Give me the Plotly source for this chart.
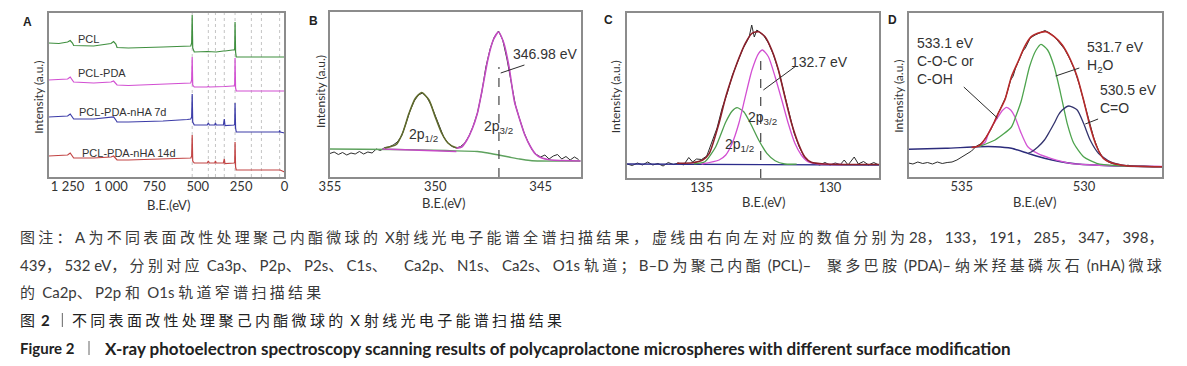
import plotly.graph_objects as go

W, H = 1187, 366
def PX(x): return x / W
def PY(y): return 1 - y / H

# ---------------- Panel A : survey spectra ----------------
A_ev = [1360, 1300, 1250, 1235, 1222, 1215, 1100, 1000, 985, 972, 965, 900, 700, 560, 540, 535, 532, 529,
        520, 445, 439, 433, 402, 398, 394, 352, 347, 343, 300, 290, 287, 285, 282, 278, 200, 100, 30, 28, 25, 0]
A_pcl = [134, 133.5, 135, 136.5, 134, 131.5, 131, 133.5, 135.5, 133, 129.5, 129, 130, 131.5, 131, 134, 162, 129,
         125, 125.5, 125.5, 125, 125.5, 125.5, 125, 126, 126, 126, 127, 127, 128.5, 155, 125, 120, 120, 120, 120, 120, 120, 120]
A_pda = [97, 97.5, 98, 100, 97, 95, 94, 95, 96, 93, 92, 91.5, 92.5, 93.5, 94, 97, 120, 92,
         90, 90, 90.5, 90, 90, 90.5, 90, 90.5, 90.5, 90.5, 91, 91, 93, 119, 89, 86, 86, 86, 86, 86, 86, 86]
A_7d = [60, 60.5, 61, 63, 60, 58, 58, 60, 60, 57, 55, 55, 56, 57.5, 58, 60, 83, 55,
        52, 52, 54, 52, 52, 54, 52, 52, 58, 51.5, 52, 52, 53, 74, 49, 45, 45, 45, 45, 46.5, 45, 44]
A_14d = [21, 21.5, 22, 24, 21, 19, 19, 20, 21, 18.5, 17, 17, 18, 18.5, 19, 21, 42, 16,
         14, 14, 16, 14, 14, 16, 14, 14, 18, 13.5, 14, 14, 15, 35, 10, 7, 7, 7, 7, 7, 7, 5]
A_names = ["PCL", "PCL-PDA", "PCL-PDA-nHA 7d", "PCL-PDA-nHA 14d"]
A_colors = ["#3f8f3f", "#d24fd2", "#3c3ca8", "#c24444"]
A_dotted = [28, 133, 191, 285, 347, 398, 439, 532]
A_ticks = [1250, 1000, 750, 500, 250, 0]
A_ticktext = ["1 250", "1 000", "750", "500", "250", "0"]

# ---------------- Panel B : Ca2p ----------------
B_ev = [355.0, 354.8, 354.6, 354.4, 354.2, 354.0, 353.8, 353.6, 353.4, 353.2, 353.0, 352.8, 352.6, 352.4, 352.2,
        352.0, 351.8, 351.6, 351.4, 351.2, 351.0, 350.8, 350.6, 350.4, 350.2, 350.0, 349.8, 349.6, 349.4, 349.2,
        349.0, 348.8, 348.6, 348.4, 348.2, 348.0, 347.8, 347.6, 347.4, 347.2, 347.0, 346.8, 346.6, 346.4, 346.2,
        346.0, 345.8, 345.6, 345.4, 345.2, 345.0, 344.8, 344.6, 344.4, 344.2, 344.0, 343.8, 343.6, 343.4, 343.2]
B_data = [23.5, 25, 22.5, 24.5, 22, 24, 23, 25.5, 23, 25, 24, 28, 26.5, 29.5, 30,
          32, 35, 41, 53, 66, 76, 82, 84, 80, 72, 61, 49, 40, 34, 30.5,
          29, 30.5, 34, 41, 51, 64, 84, 110, 128, 140, 146, 137, 118, 96, 72,
          58, 45, 35, 27, 22.5, 20, 22, 18, 21, 22.5, 18, 20.5, 17, 20, 17.5]
B_bg_ev = [355.0, 352.0, 349.5, 348.0, 347.5, 347.0, 346.5, 346.0, 345.5, 345.0, 343.1]
B_bg = [28, 27.5, 26.5, 25.5, 24, 22, 20, 18, 16.5, 16, 16]
B_p1_ev = [352.4, 352.1, 351.85, 351.55, 351.25, 350.95, 350.65, 350.3, 350.0, 349.7, 349.4, 349.1, 348.9]
B_p1 = [29, 30.5, 32.5, 44, 63.5, 78.5, 84.5, 77, 60, 44, 34, 30, 29]
B_p2_ev = [349.0, 348.75, 348.5, 348.25, 348.0, 347.75, 347.5, 347.25, 347.0, 346.75, 346.5, 346.25, 346.0,
           345.75, 345.5, 345.25, 345.0, 344.5, 344.0, 343.1]
B_p2 = [29, 30, 37, 48, 64, 90, 118, 137, 145, 134, 110, 76, 58, 42, 31, 23, 19.5, 17, 16.5, 16]
B_base1_ev = [352.5, 349.0]
B_base1 = [28, 25.5]
B_peak = 346.98
B_dash_top = 110
B_ticks = [355, 350, 345]

# ---------------- Panel C : P2p ----------------
C_ev = [137.9, 137.7, 137.5, 137.3, 137.1, 136.9, 136.7, 136.5, 136.3, 136.1, 135.9, 135.7, 135.5, 135.35, 135.2,
        135.0, 134.8, 134.6, 134.4, 134.2, 134.0, 133.8, 133.6, 133.4, 133.25, 133.15, 133.05, 132.95, 132.85,
        132.75, 132.6, 132.4, 132.2, 132.0, 131.8, 131.6, 131.4, 131.2, 131.0, 130.8, 130.6, 130.4, 130.2, 130.0,
        129.8, 129.6, 129.45, 129.3, 129.06, 128.9, 128.7, 128.5, 128.3, 128.1]
C_data = [14, 12.5, 15, 13, 16, 13, 14.5, 12, 15.5, 13.5, 15, 13, 20.5, 16, 19,
          18.5, 22, 35, 50, 70, 85, 103, 116, 129, 136, 141, 153, 141, 148,
          146, 143, 135, 123, 107, 86, 64, 45, 31, 21, 16, 14.5, 13, 15.5, 13,
          15, 13.5, 18, 13, 21, 14, 16.5, 13, 15.5, 13]
C_base_ev = [137.9, 128.1]
C_base = [14, 13]
C_g_ev = [135.3, 134.87, 134.45, 134.06, 133.81, 133.62, 133.36, 133.10, 132.78, 132.46, 132.14, 131.76, 131.3]
C_g = [14.2, 16.3, 31.3, 56, 67, 70.3, 66.3, 54.7, 38, 24.7, 17.3, 14, 13.8]
C_m_ev = [135.0, 134.32, 134.06, 133.81, 133.55, 133.30, 133.04, 132.78, 132.63, 132.40, 132.14, 131.88, 131.63,
          131.37, 131.12, 130.86, 130.47, 129.5]
C_m = [14, 18, 23, 34.7, 54.7, 81.3, 108, 124.7, 128, 121.3, 101.3, 78, 54.7, 34.7, 23, 16.3, 14, 13.5]
C_env_ev = [135.96, 135.35, 134.96, 134.70, 134.32, 134.06, 133.81, 133.55, 133.30, 133.04, 132.78, 132.53, 132.27,
            132.01, 131.76, 131.50, 131.24, 130.99, 130.73, 130.23, 128.1]
C_env = [14.7, 15.3, 18, 24.7, 55, 81.3, 101.3, 119.7, 134.7, 144.7, 146.3, 141.3, 128, 108, 81.3, 54.7, 34.7,
         21.3, 15.7, 14, 13.5]
C_peak = 132.7
C_dash_top = 121
C_ticks = [135, 130]

# ---------------- Panel D : O1s ----------------
D_ev = [537.18, 537.0, 536.8, 536.6, 536.4, 536.2, 536.0, 535.8, 535.6, 535.4, 535.2, 535.0, 534.8, 534.6, 534.4,
        534.2, 534.0, 533.8, 533.6, 533.4, 533.2, 533.0, 532.9, 532.8, 532.6, 532.5, 532.4, 532.2, 532.0, 531.8,
        531.6, 531.4, 531.2, 531.0, 530.8, 530.6, 530.4, 530.2, 530.0, 529.8, 529.6, 529.4, 529.2, 529.0, 528.8,
        528.6, 528.4, 528.2, 528.0, 527.6, 527.2, 526.8]
D_data = [14, 13, 15, 13.5, 14.5, 13, 15, 13.5, 14.5, 15, 17, 20, 23, 26, 31,
          33.5, 40, 48, 59, 69, 80, 97, 101, 109, 120, 126, 129, 139, 142, 144,
          146.5, 144, 140, 134, 128, 119, 108, 93, 75, 55, 39, 26, 18.5, 15, 13,
          12.5, 11, 11.8, 10.5, 11, 10.3, 10.5]
D_base_ev = [537.18, 535.66, 534.31, 533.64, 532.97, 532.30, 531.62, 530.96, 530.28, 528.94, 526.8]
D_base = [27.7, 28.7, 30.3, 30.3, 28.7, 23.7, 18.7, 15.3, 13, 11.3, 10.3]
D_m_ev = [534.31, 534.04, 533.91, 533.71, 533.51, 533.34, 533.17, 533.0, 532.83, 532.7, 532.57, 532.43, 532.30,
          531.90, 531.36, 530.55, 529.61, 528.27, 526.8]
D_m = [30.3, 35, 43.7, 53, 60.3, 66.5, 69.7, 67, 60.3, 52, 43.7, 36, 30.3, 23.7, 18.7, 13.7, 12, 11, 10.5]
D_g_ev = [534.31, 533.64, 532.97, 532.77, 532.57, 532.40, 532.23, 531.96, 531.76, 531.49, 531.22, 530.96, 530.69,
          530.42, 530.02, 529.48, 528.67, 526.8]
D_g = [30.3, 37, 50, 62, 76, 93, 110.3, 127, 132.7, 127, 110.3, 83.7, 53.7, 33.7, 20.3, 13.7, 11.3, 10.3]
D_n_ev = [532.30, 532.16, 531.89, 531.62, 531.42, 531.22, 531.05, 530.89, 530.62, 530.28, 530.02, 529.75, 529.41,
          528.94, 528.27, 526.8]
D_n = [23.7, 25, 30, 37, 45, 53.7, 62, 67, 71, 67, 53.7, 37, 23.7, 15.3, 11.3, 10.3]
D_env_ev = [534.6, 534.31, 534.11, 533.91, 533.71, 533.51, 533.24, 532.97, 532.70, 532.43, 532.16, 531.90, 531.56,
            531.22, 530.89, 530.55, 530.28, 530.02, 529.75, 529.48, 529.21, 528.81, 528.27, 526.8]
D_env = [29.5, 31, 36, 43.7, 53, 63.7, 77, 100.3, 115.3, 130.3, 140.3, 143.7, 145.3, 140.3, 132, 117, 100.3, 77,
         50.3, 30.3, 18.7, 13.7, 11.3, 10.3]
D_ticks = [535, 530]

# ---------------- Caption (segments: left x in px, text) ----------------
CAP1 = [(7, "图注：A 为不同表面改性处理聚己内酯微球的 X"), (387, "射线光电子能谱全谱扫描结果，"),
        (647, "虚线由右向左对应的数值分别为"), (907, "28，133，191，285，347，398，")]
CAP2 = [(7, "439，532 eV，分别对应 Ca3p、P2p、P2s、C1s、"),
        (396, "Ca2p、N1s、Ca2s、O1s 轨道；B–D 为聚己内酯 (PCL)–"),
        (824, "聚多巴胺 (PDA)– 纳米羟基磷灰石 (nHA) 微球")]
CAP3 = [(7, "的 Ca2p、P2p 和 O1s 轨道窄谱扫描结果")]
TCN = [(7, "图"), (28, "<b>2</b>"), (60, "不同表面改性处理聚己内酯微球的 X 射线光电子能谱扫描结果")]
TEN = [(7, "<b>Figure 2</b>", 15),
       (93, "<b>X-ray photoelectron spectroscopy scanning results of polycaprolactone microspheres with different surface modification</b>", 17)]

SANS = "Liberation Sans, Arial, sans-serif"
TICKF = "Lato, Open Sans, sans-serif"
CAPF = "Lato, Noto Sans CJK SC, sans-serif"
DARK = "#333333"

fig = go.Figure()

def line(x, y, color, ax, width=1.2, shape="linear", dash=None):
    fig.add_trace(go.Scatter(x=x, y=y, mode="lines", xaxis="x" + ax, yaxis="y" + ax,
                             line=dict(color=color, width=width, shape=shape, dash=dash, smoothing=0.6),
                             showlegend=False, hoverinfo="skip"))

# A
for ys, c in zip([A_pcl, A_pda, A_7d, A_14d], A_colors):
    line(A_ev, ys, c, "", 1.2)
# B
line(B_ev, B_data, "#2b2b2b", "2", 1.0)
line(B_bg_ev, B_bg, "#5ea25e", "2", 1.3, "spline")
line(B_base1_ev, B_base1, "#c64ac6", "2", 1.3)
line(B_p1_ev, B_p1, "#5f6a2c", "2", 1.6, "spline")
line(B_p2_ev, B_p2, "#c24bc2", "2", 1.6, "spline")
line([B_peak, B_peak], [0, B_dash_top], "#444444", "2", 1.2, dash="dash")
# C
line(C_ev, C_data, "#2b2b2b", "3", 1.0)
line(C_base_ev, C_base, "#2c2c8c", "3", 1.3)
line(C_g_ev, C_g, "#4e9e4e", "3", 1.3, "spline")
line(C_m_ev, C_m, "#d24fd2", "3", 1.3, "spline")
line(C_env_ev, C_env, "#8a1f2a", "3", 1.6, "spline")
line([C_peak, C_peak], [0, C_dash_top], "#444444", "3", 1.2, dash="dash")
# D
line(D_ev, D_data, "#2b2b2b", "4", 1.0)
line(D_base_ev, D_base, "#2c2c7c", "4", 1.4, "spline")
line(D_m_ev, D_m, "#d456d4", "4", 1.3, "spline")
line(D_g_ev, D_g, "#4ea44e", "4", 1.3, "spline")
line(D_n_ev, D_n, "#34346e", "4", 1.3, "spline")
line(D_env_ev, D_env, "#b62a2a", "4", 1.6, "spline")

# axes
frame = dict(showgrid=False, zeroline=False, showline=True, mirror=True, linecolor="#8c8c8c",
             linewidth=1.5, ticks="", fixedrange=True)
xt = dict(tickfont=dict(family=TICKF, size=13, color=DARK), ticklabelstandoff=-3)
lay = dict(
    width=W, height=H, margin=dict(l=0, r=0, t=0, b=0), paper_bgcolor="white", plot_bgcolor="white",
    xaxis=dict(domain=[PX(38), PX(277)], range=[1360, 0], anchor="y", tickvals=A_ticks, ticktext=A_ticktext, **frame, **xt),
    yaxis=dict(domain=[PY(177), PY(13)], range=[0, 164], anchor="x", showticklabels=False, **frame),
    xaxis2=dict(domain=[PX(323), PX(577)], range=[355, 343.1], anchor="y2", tickvals=B_ticks, **frame, **xt),
    yaxis2=dict(domain=[PY(177), PY(12)], range=[0, 165], anchor="x2", showticklabels=False, **frame),
    xaxis3=dict(domain=[PX(624), PX(879)], range=[137.9, 128.1], anchor="y3", tickvals=C_ticks, **frame, **xt),
    yaxis3=dict(domain=[PY(178), PY(13)], range=[0, 165], anchor="x3", showticklabels=False, **frame),
    xaxis4=dict(domain=[PX(909), PX(1166)], range=[537.18, 526.8], anchor="y4", tickvals=D_ticks, **frame, **xt),
    yaxis4=dict(domain=[PY(177), PY(13)], range=[0, 164], anchor="x4", showticklabels=False, **frame),
)
fig.update_layout(**lay)

# dotted lines in A
for v in A_dotted:
    fig.add_shape(type="line", xref="x", yref="y domain", x0=v, x1=v, y0=0, y1=1,
                  line=dict(color="#c4c4c4", width=1, dash="dot"), layer="below")

# leader lines (pixel positions)
for (x0, y0, x1, y1) in [(496, 73, 520, 65), (762, 90, 795, 66), (965, 87, 999, 118),
                         (1058, 76, 1082, 68), (1088, 124, 1101, 119)]:
    fig.add_shape(type="line", xref="paper", yref="paper", x0=PX(x0), y0=PY(y0), x1=PX(x1), y1=PY(y1),
                  line=dict(color="#2b2b2b", width=1))
# separator bars in the figure titles
for (x, y) in [(52, 320), (79, 348)]:
    fig.add_shape(type="line", xref="paper", yref="paper", x0=PX(x), x1=PX(x), y0=PY(y - 7), y1=PY(y + 7),
                  line=dict(color="#666666", width=1))

def txt(x, y, s, size, family=SANS, xa="center", color=DARK, align="center", angle=0):
    fig.add_annotation(x=PX(x), y=PY(y), xref="paper", yref="paper", text=s, showarrow=False,
                       xanchor=xa, yanchor="middle", align=align, textangle=angle,
                       font=dict(family=family, size=size, color=color))

def cjk(s, ls=3.3):
    runs, cur, cur_c = [], "", None
    for ch in s:
        c = ord(ch) >= 0x2E80
        if cur_c is None or c == cur_c:
            cur += ch
        else:
            runs.append((cur_c, cur))
            cur = ch
        cur_c = c
    runs.append((cur_c, cur))
    return "".join('<span style="letter-spacing:%spx">%s</span>' % (ls, t) if c else t for c, t in runs)

# panel letters
for (x, y, s) in [(17, 22, "A"), (306, 21, "B"), (605, 20, "C"), (893, 20, "D")]:
    txt(x, y, "<b>" + s + "</b>", 12, color="#222222")
# y titles
for (x, y) in [(28, 97), (313, 92), (613, 97), (898, 96)]:
    txt(x, y, "Intensity (a.u.)", 12, family=TICKF, angle=-90)
# x titles
for (x, y) in [(160, 205), (438, 203), (762, 202), (1037, 202)]:
    txt(x, y, "B.E.(eV)", 13, family=TICKF)

# A labels
for (x, y), s in zip([(66, 39), (66, 73), (67, 112), (70, 153)], A_names):
    txt(x, y, s, 11, xa="left")
# B labels
txt(541, 54, "346.98 eV", 14)
txt(418, 135, "2p<sub>1/2</sub>", 14)
txt(494, 127, "2p<sub>3/2</sub>", 14)
# C labels
txt(819, 62, "132.7 eV", 14)
txt(761, 118, "2p<sub>3/2</sub>", 14)
txt(738, 145, "2p<sub>1/2</sub>", 14)
# D labels
txt(916, 61, "533.1 eV<br>C-O-C or<br>C-OH", 14, xa="left", align="left")
txt(1088, 57, "531.7 eV<br>H<sub>2</sub>O", 14, xa="left", align="left")
txt(1101, 99, "530.5 eV<br>C=O", 14, xa="left", align="left")

# caption
for y, segs in zip([237, 265, 292], [CAP1, CAP2, CAP3]):
    for (x, s) in segs:
        txt(x, y, cjk(s), 15, family=CAPF, xa="left", color="#3a3a3a")
for (x, s) in TCN:
    txt(x, 320, cjk(s), 15, family=CAPF, xa="left", color="#222222")
for (x, s, sz) in TEN:
    txt(x, 348, s, sz, family=CAPF, xa="left", color="#222222")

fig.write_html("out.html", config={"displayModeBar": False},
               post_script="document.body.style.margin='0px';")
